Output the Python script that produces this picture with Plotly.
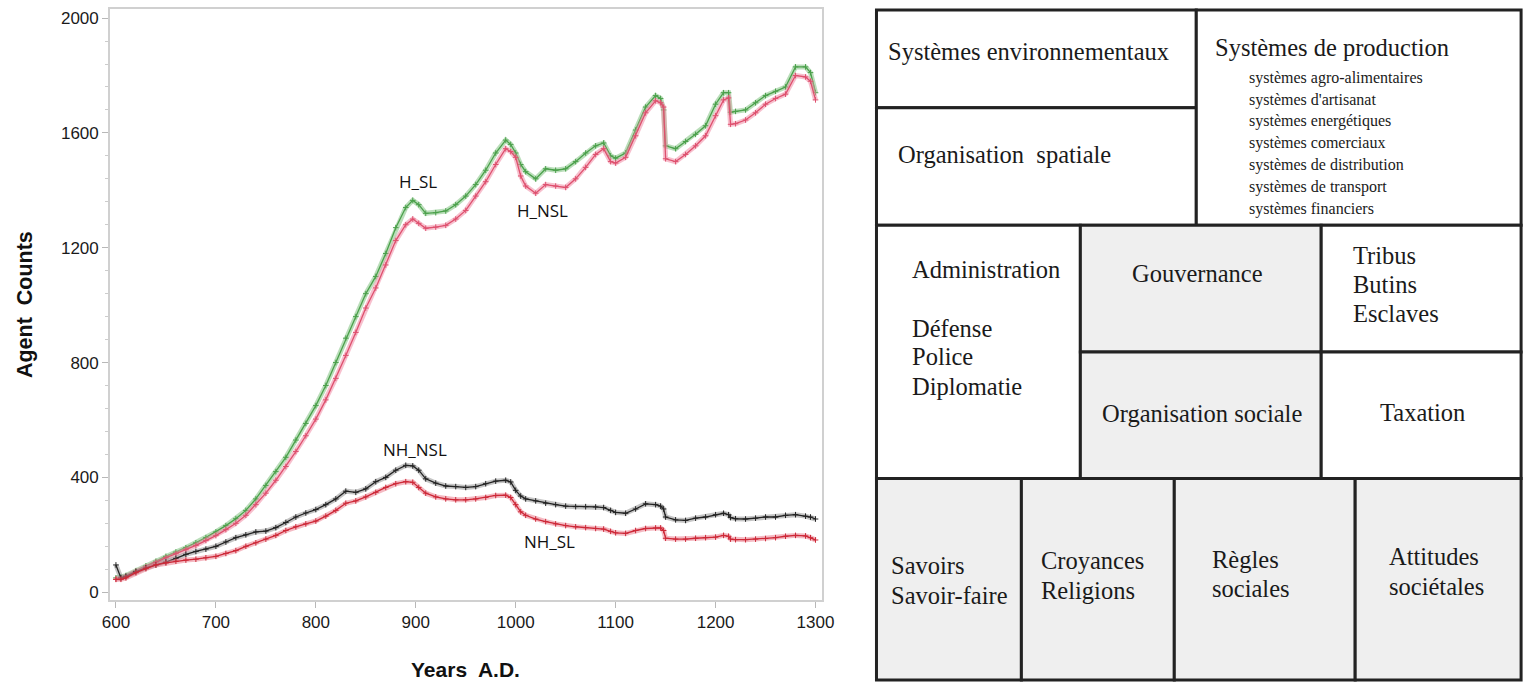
import plotly.graph_objects as go

W, H = 1529, 691
# horizontal correction observed for the photographed page (image x = 8 + 0.987 * page x)
OX, SX = 8.0, 0.987
FW = 1545

years = [600, 605, 610, 620, 630, 640, 650, 660, 670, 680, 690, 700, 710, 720, 730, 740,
         750, 760, 770, 780, 790, 800, 810, 820, 830, 840, 850, 860, 870, 880, 890, 897,
         903, 910, 920, 930, 940, 950, 960, 970, 980, 990, 995, 1000, 1005, 1010, 1020,
         1030, 1040, 1050, 1060, 1070, 1080, 1088, 1095, 1100, 1110, 1120, 1130, 1140,
         1145, 1148, 1150, 1160, 1170, 1180, 1190, 1200, 1208, 1213, 1215, 1220, 1230,
         1240, 1250, 1260, 1270, 1280, 1290, 1295, 1300]

h_sl = [50, 52, 58, 75, 92, 108, 125, 140, 155, 172, 190, 210, 232, 256, 285, 325,
        372, 420, 470, 530, 588, 650, 720, 800, 885, 960, 1040, 1100, 1180, 1270, 1340, 1365,
        1350, 1320, 1322, 1328, 1350, 1380, 1420, 1470, 1530, 1575, 1560, 1530, 1490, 1465, 1440,
        1475, 1470, 1475, 1500, 1530, 1555, 1565, 1520, 1512, 1530, 1610, 1690, 1730,
        1720, 1680, 1555, 1545, 1570, 1595, 1625, 1700, 1740, 1740, 1672, 1675, 1680,
        1705, 1730, 1745, 1760, 1830, 1830, 1810, 1740]

h_nsl = [45, 48, 55, 72, 88, 104, 120, 134, 148, 163, 180, 197, 218, 240, 268, 305,
         345, 390, 438, 490, 545, 603, 670, 745, 825, 905, 990, 1060, 1140, 1225, 1280, 1300,
         1285, 1268, 1272, 1278, 1300, 1330, 1380, 1430, 1490, 1545, 1535, 1515, 1450, 1415, 1390,
         1420, 1415, 1410, 1440, 1480, 1525, 1545, 1500, 1495, 1515, 1590, 1670, 1712,
         1705, 1690, 1510, 1500, 1525, 1555, 1590, 1660, 1715, 1722, 1630, 1632, 1645,
         1670, 1700, 1720, 1735, 1800, 1795, 1780, 1715]

nh_nsl = [95, 50, 55, 72, 85, 95, 105, 118, 132, 142, 150, 160, 175, 190, 200, 210,
          213, 225, 243, 262, 276, 288, 305, 325, 352, 348, 360, 385, 400, 425, 442, 440,
          425, 395, 380, 370, 368, 365, 368, 378, 387, 390, 384, 355, 335, 325, 318,
          310, 305, 300, 298, 298, 297, 295, 285, 278, 275, 290, 308, 305,
          300, 290, 262, 252, 250, 258, 262, 270, 275, 270, 260, 256, 255,
          258, 262, 262, 268, 270, 265, 262, 255]

nh_sl = [45, 45, 50, 68, 82, 95, 102, 108, 112, 115, 120, 125, 135, 145, 160, 172,
         185, 198, 215, 228, 238, 248, 265, 285, 310, 318, 332, 348, 365, 378, 385, 383,
         365, 345, 332, 325, 322, 322, 325, 330, 337, 338, 330, 305, 280, 268, 255,
         246, 238, 232, 228, 225, 222, 220, 212, 207, 205, 215, 222, 224,
         224, 215, 188, 185, 185, 188, 190, 192, 198, 195, 185, 183, 183,
         185, 187, 190, 195, 198, 196, 190, 182]

series_names = ["H_SL", "H_NSL", "NH_NSL", "NH_SL"]
series_values = [h_sl, h_nsl, nh_nsl, nh_sl]
band_colors = ["rgba(130,195,130,0.55)", "rgba(240,140,165,0.55)",
               "rgba(140,140,140,0.5)", "rgba(235,130,145,0.55)"]
line_colors = ["rgb(75,160,75)", "rgb(222,80,110)", "rgb(35,35,35)", "rgb(205,40,55)"]

x_ticks = [600, 700, 800, 900, 1000, 1100, 1200, 1300]
y_ticks = [0, 400, 800, 1200, 1600, 2000]

label_text = ["H_SL", "H_NSL", "NH_NSL", "NH_SL"]
label_x = [902, 1027, 899, 1034]
label_y = [1430, 1330, 497, 177]

box_fill = "#efefef"


def px(x):
    return ((x - OX) / SX) / FW


def py(y):
    return 1 - y / H


fig = go.Figure()

for name, vals, bc, lc in zip(series_names, series_values, band_colors, line_colors):
    fig.add_trace(go.Scatter(x=years, y=vals, mode="lines", name=name,
                             line=dict(color=bc, width=5), showlegend=False, hoverinfo="skip"))
    fig.add_trace(go.Scatter(x=years, y=vals, mode="lines+markers", name=name,
                             line=dict(color=lc, width=1.3),
                             marker=dict(symbol="cross-thin", size=4, line=dict(color=lc, width=1)),
                             showlegend=False))

tickfont = dict(family="Liberation Sans, Arial", size=17, color="#1a1a1a")
fig.update_layout(
    width=FW, height=H,
    margin=dict(l=0, r=0, t=0, b=0),
    paper_bgcolor="white", plot_bgcolor="white",
    xaxis=dict(domain=[px(110), px(822)], range=[594, 1306], tickvals=x_ticks,
               ticks="outside", ticklen=6, tickcolor="#b8b8b8",
               showline=True, linecolor="#d0d0d0", linewidth=1.5, mirror=True,
               showgrid=False, zeroline=False, tickfont=tickfont),
    yaxis=dict(domain=[py(602), py(9.5)], range=[-28, 2030], tickvals=y_ticks,
               ticks="outside", ticklen=6, tickcolor="#b8b8b8",
               minor=dict(dtick=80, tick0=0, ticks="outside", ticklen=3, tickcolor="#cccccc"),
               showline=True, linecolor="#d0d0d0", linewidth=1.5, mirror=True,
               showgrid=False, zeroline=False, tickfont=tickfont),
)

annotations = []
for t, lx, ly in zip(label_text, label_x, label_y):
    annotations.append(dict(x=lx, y=ly, xref="x", yref="y", text=t, showarrow=False,
                            xanchor="center", yanchor="middle",
                            font=dict(family="Open Sans, Noto Sans", size=17, color="#111")))

annotations.append(dict(x=px(25), y=py(305), xref="paper", yref="paper",
                        text="<b>Agent  Counts</b>", textangle=-90, showarrow=False,
                        xanchor="center", yanchor="middle",
                        font=dict(family="Liberation Sans, Arial", size=21.5, color="#111")))
annotations.append(dict(x=px(466), y=py(671), xref="paper", yref="paper",
                        text="<b>Years  A.D.</b>", showarrow=False,
                        xanchor="center", yanchor="middle",
                        font=dict(family="Liberation Sans, Arial", size=21, color="#111")))

shapes = []
border = dict(color="#222222", width=3)


def rect(xa, ya, xb, yb, fill):
    shapes.append(dict(type="rect", xref="paper", yref="paper",
                       x0=px(xa), x1=px(xb), y0=py(yb), y1=py(ya),
                       fillcolor=fill, line=border, layer="above"))


rect(877, 10, 1197, 108, "white")
rect(877, 108, 1197, 226, "white")
rect(1197, 10, 1522, 226, "white")
rect(877, 226, 1081, 480, "white")
rect(1081, 226, 1322, 353, box_fill)
rect(1081, 353, 1322, 480, box_fill)
rect(1322, 226, 1522, 353, "white")
rect(1322, 353, 1522, 480, "white")
rect(877, 480, 1022, 682, box_fill)
rect(1022, 480, 1175, 682, box_fill)
rect(1175, 480, 1356, 682, box_fill)
rect(1356, 480, 1522, 682, box_fill)

serif = "Liberation Serif, Times New Roman"
BIG = 24.5


def txt(x, y, s, size=BIG, anchor="left"):
    annotations.append(dict(x=px(x), y=py(y), xref="paper", yref="paper", text=s,
                            showarrow=False, xanchor=anchor, yanchor="middle",
                            font=dict(family=serif, size=size, color="#1a1a1a")))


txt(887, 52, "Systèmes environnementaux")
txt(1214, 48, "Systèmes de production")
sub_items = ["systèmes agro-alimentaires", "systèmes d'artisanat", "systèmes energétiques",
             "systèmes comerciaux", "systèmes de distribution", "systèmes de transport",
             "systèmes financiers"]
for i, s in enumerate(sub_items):
    txt(1248, 78 + i * 21.9, s, 16)
txt(897, 155, "Organisation  spatiale")
txt(911, 270, "Administration")
txt(911, 329, "Défense")
txt(911, 358, "Police")
txt(911, 388, "Diplomatie")
txt(1198, 274, "Gouvernance", anchor="center")
txt(1352, 256, "Tribus")
txt(1352, 285, "Butins")
txt(1352, 314, "Esclaves")
txt(1203, 415, "Organisation sociale", anchor="center")
txt(1423, 414, "Taxation", anchor="center")
txt(890, 567, "Savoirs")
txt(890, 597, "Savoir-faire")
txt(1040, 562, "Croyances")
txt(1040, 592, "Religions")
txt(1211, 561, "Règles")
txt(1211, 590, "sociales")
txt(1388, 558, "Attitudes")
txt(1388, 588, "sociétales")

fig.update_layout(annotations=annotations, shapes=shapes)
fig.write_html("out.html", config={"displayModeBar": False},
               post_script="document.body.style.margin='0';document.body.style.overflow='hidden';")
